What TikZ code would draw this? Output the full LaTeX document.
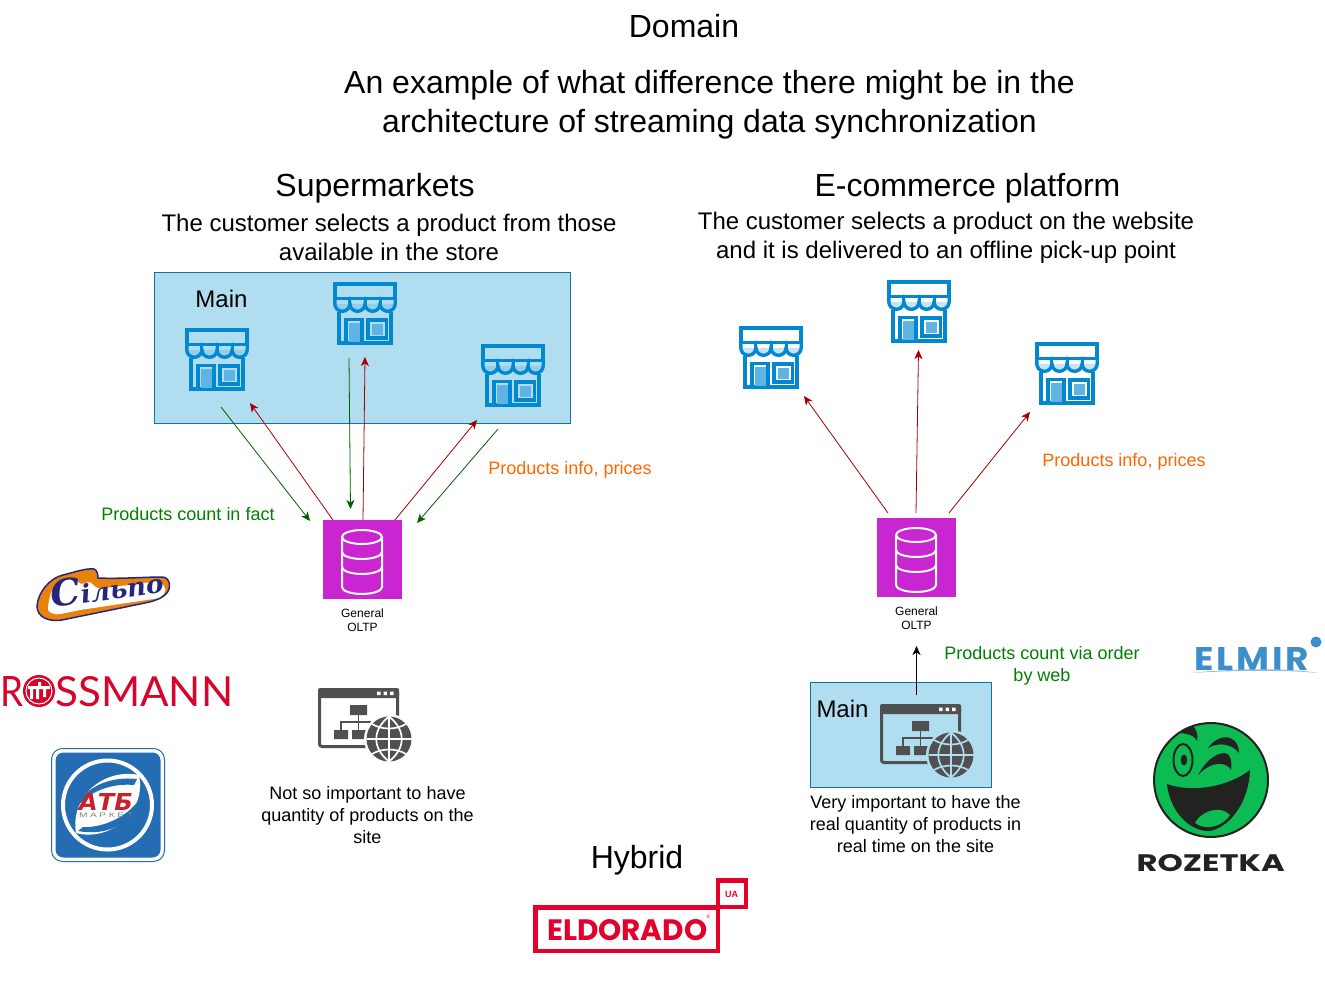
\documentclass[tikz,border=0pt]{standalone}
\usepackage{fontspec}
\setmainfont{Liberation Sans}
\newfontfamily\dvserif{DejaVu Serif}
\newfontfamily\lato{Lato}
\newfontfamily\pop{Poppins}
\newfontfamily\popsp[LetterSpace=8]{Poppins}
\newfontfamily\dejavu{DejaVu Sans}
\newfontfamily\widesans[LetterSpace=25]{Liberation Sans}
\usetikzlibrary{arrows.meta}
\definecolor{boxfill}{HTML}{B1DDF0}
\definecolor{boxline}{HTML}{10739E}
\definecolor{storeblue}{HTML}{0288D1}
\definecolor{storelight}{HTML}{5FB4E3}
\definecolor{dbpurple}{HTML}{C925D1}
\definecolor{webgrey}{HTML}{505050}
\definecolor{labgreen}{HTML}{008000}
\definecolor{laborange}{HTML}{FF6600}
\definecolor{arrred}{HTML}{A50000}
\definecolor{arrgreen}{HTML}{005F00}
\definecolor{silorange}{HTML}{E8820C}
\definecolor{silnavy}{HTML}{25277F}
\definecolor{rossred}{HTML}{D5052B}
\definecolor{atbblue}{HTML}{256DB2}
\definecolor{atbred}{HTML}{C9202C}
\definecolor{elmblue}{HTML}{3D8FCB}
\definecolor{rozgreen}{HTML}{0CBB52}
\definecolor{rozdark}{HTML}{222220}
\definecolor{eldred}{HTML}{E4002B}
\tikzset{
  x=1pt,y=-1pt,
  txt/.style={inner sep=0pt,align=center,text=black},
  t32/.style={txt,font=\fontsize{32}{39}\selectfont},
  t24/.style={txt,font=\fontsize{24}{29}\selectfont},
  t18/.style={txt,font=\fontsize{18}{22}\selectfont},
  t12/.style={txt,font=\fontsize{12}{14.5}\selectfont},
  areabox/.style={draw=boxline,fill=boxfill,line width=1pt},
  dbbox/.style={fill=dbpurple,draw=none,inner sep=0pt,minimum size=79pt},
  flow/.style={-{Stealth[length=9pt,width=8pt,inset=2.5pt]},line width=0.8pt},
  redflow/.style={flow,draw=arrred},
  greenflow/.style={flow,draw=arrgreen},
  blackflow/.style={flow,draw=black,line width=1pt},
  pics/storeicon/.style={code={
    \fill[storelight,opacity=.35] (1.8,21.8)
       arc[start angle=180,end angle=360,x radius=7.55,y radius=-7.5]
       arc[start angle=180,end angle=360,x radius=7.55,y radius=-7.5]
       arc[start angle=180,end angle=360,x radius=7.55,y radius=-7.5]
       arc[start angle=180,end angle=360,x radius=7.55,y radius=-7.5] -- cycle;
    \draw[storeblue,line width=3.6pt,line join=miter] (1.8,1.8) rectangle (62.2,16.4);
    \draw[storeblue,line width=3.4pt] (1.8,16) -- (1.8,21.8)
       arc[start angle=180,end angle=360,x radius=7.55,y radius=-7.5]
       arc[start angle=180,end angle=360,x radius=7.55,y radius=-7.5]
       arc[start angle=180,end angle=360,x radius=7.55,y radius=-7.5]
       arc[start angle=180,end angle=360,x radius=7.55,y radius=-7.5] -- (62.2,16);
    \draw[storeblue,line width=3pt] (16.9,16.4)--(16.9,21.8) (32,16.4)--(32,21.8) (47.1,16.4)--(47.1,21.8);
    \draw[storeblue,line width=3.6pt] (6,30) -- (6,61.2) -- (58,61.2) -- (58,30);
    \draw[storeblue,line width=3.2pt] (13,62) -- (13,37.5) -- (29,37.5) -- (29,62);
    \fill[storelight] (16,41) rectangle (26.5,59.5);
    \draw[storeblue,line width=3.4pt] (35,38) rectangle (53.5,56);
    \fill[storelight] (38.5,41.5) rectangle (50,52.5);
  }},
  pics/dbicon/.style={code={
    \draw[white,line width=2pt,fill=none] (-20,-25) -- (-20,25)
      arc[start angle=180,end angle=360,x radius=20,y radius=-7] -- (20,-25);
    \draw[white,line width=2pt] (0,-25) ellipse[x radius=20,y radius=7];
    \draw[white,line width=2pt] (-20,-10) arc[start angle=180,end angle=360,x radius=20,y radius=-7];
    \draw[white,line width=2pt] (-20,5) arc[start angle=180,end angle=360,x radius=20,y radius=-7];
  }},
  pics/webicon/.style={code={
    \draw[webgrey,line width=3pt,rounded corners=2.5pt] (1.5,1.5) rectangle (79.5,58.5);
    \fill[webgrey,rounded corners=2pt] (0,0) rectangle (81,10);
    \fill[white] (59,3.5) rectangle (62.5,7) (65.5,3.5) rectangle (69,7) (72,3.5) rectangle (75.5,7);
    \fill[webgrey] (32,17) rectangle (49,27) (16,42) rectangle (30,51) (34,42) rectangle (48,51);
    \draw[webgrey,line width=1.6pt] (40.5,27) -- (40.5,42) (23,42) -- (23,34) -- (56,34);
    \fill[#1] (71,51) circle[radius=25];
    \fill[webgrey] (71,51) circle[radius=22.5];
    \draw[#1,line width=1.7pt] (71,28.5) -- (71,73.5) (48.5,51) -- (93.5,51);
    \draw[#1,line width=1.7pt] (54,36) .. controls (64,42) and (78,42) .. (88,36);
    \draw[#1,line width=1.7pt] (54,66) .. controls (64,60) and (78,60) .. (88,66);
    \draw[#1,line width=1.7pt] (71,28.5) .. controls (54,42) and (54,60) .. (71,73.5);
    \draw[#1,line width=1.7pt] (71,28.5) .. controls (88,42) and (88,60) .. (71,73.5);
  }},
}
\begin{document}
\begin{tikzpicture}
\useasboundingbox (0,0) rectangle (1325,1007);
\fill[white] (0,0) rectangle (1325,1007);

% titles
\node[t32] (domain) at (684,26) {Domain};
\node[t32] (subtitle) at (709.5,104.5) {An example of what difference there might be in the\\architecture of streaming data synchronization};
\node[t32] (supers) at (375,188) {Supermarkets};
\node[t32] (ecom) at (967.5,188) {E-commerce platform};
\node[t24] (superdesc) at (389,237.5) {The customer selects a product from those\\available in the store};
\node[t24] (ecomdesc) at (946,237.5) {The customer selects a product on the website\\and it is delivered to an offline pick-up point};
\node[t32] (hybrid) at (637,860) {Hybrid};

% areas
\node[areabox,inner sep=0pt,anchor=north west,minimum width=416pt,minimum height=151pt] (mainleft) at (154,272) {};
\node[areabox,inner sep=0pt,anchor=north west,minimum width=181pt,minimum height=105pt] (mainright) at (810,682) {};
\node[t24] (mainlefttxt) at (221.5,299) {Main};
\node[t24] (mainrighttxt) at (842.5,709) {Main};

% stores
\pic at (185,328) {storeicon};
\pic at (333,282) {storeicon};
\pic at (481,344) {storeicon};
\pic at (739,326) {storeicon};
\pic at (887,280) {storeicon};
\pic at (1035,342) {storeicon};

% databases
\node[dbbox] (oltpl) at (362.5,559.5) {};
\node[dbbox] (oltpr) at (916.5,557.5) {};
\pic at (362,562) {dbicon};
\pic at (916,560) {dbicon};
\node[t12] (oltpltxt) at (362.5,620) {General\\OLTP};
\node[t12] (oltprtxt) at (916.5,618) {General\\OLTP};

% connector ends
\coordinate (la) at (221,407);  \coordinate (lb) at (310,521);
\coordinate (lc) at (333,520);  \coordinate (ld) at (250,403);
\coordinate (le) at (349,358);  \coordinate (lf) at (350.5,509);
\coordinate (lg) at (363,520);  \coordinate (lh) at (365,357);
\coordinate (li) at (395,520);  \coordinate (lj) at (477,420);
\coordinate (lk) at (498,429);  \coordinate (ll) at (417,523);
\coordinate (ra) at (888,513);  \coordinate (rb) at (804,396);
\coordinate (rc) at (916,513);  \coordinate (rd) at (918.5,350);
\coordinate (re) at (949,513);  \coordinate (rf) at (1030,412);
\coordinate (rg) at (916.5,695); \coordinate (rh) at (916.5,646);

\draw[greenflow] (la) -- (lb);
\draw[redflow] (lc) -- (ld);
\draw[greenflow] (le) -- (lf);
\draw[redflow] (lg) -- (lh);
\draw[redflow] (li) -- (lj);
\draw[greenflow] (lk) -- (ll);
\draw[redflow] (ra) -- (rb);
\draw[redflow] (rc) -- (rd);
\draw[redflow] (re) -- (rf);
\draw[blackflow] (rg) -- (rh);

% labels
\node[t18,text=laborange] (pil) at (570,470) {Products info, prices};
\node[t18,text=laborange] (pir) at (1124,462) {Products info, prices};
\node[t18,text=labgreen] (pcf) at (188,514) {Products count in fact};
\node[t18,text=labgreen] (pcw) at (1042,666) {Products count via order\\by web};
\node[t18] (notimp) at (367.5,815) {Not so important to have\\quantity of products on the\\site};
\node[t18] (veryimp) at (915.5,824) {Very important to have the\\real quantity of products in\\real time on the site};

% web icons
\pic at (318,688) {webicon=white};
\pic at (880,704) {webicon=boxfill};

% Silpo logo
\fill[silorange,draw=silnavy,line width=1.5pt]
  (37,606) .. controls (38,592) and (50,578) .. (63,575) .. controls (75,572) and (86,568) .. (94,569)
  .. controls (97,570) and (98,574) .. (98,578) .. controls (120,579) and (145,577) .. (162,577)
  .. controls (170,577) and (172,588) .. (166,594) .. controls (160,600) and (150,602) .. (140,604)
  -- (62,620) .. controls (50,622) and (37,618) .. (37,606) -- cycle;
\fill[white,rounded corners=4pt] (47,611) -- (51,591) -- (61,581) -- (75,578) -- (80,585) -- (90,581) -- (97,589) -- (160,581) -- (167,590) -- (160,598) -- (80,610) -- (56,615) -- cycle;
\node[inner sep=0pt,rotate=8,text=silnavy] (silpo) at (107,587) {\resizebox{113pt}{27pt}{\dvserif\bfseries\itshape{\fontsize{20}{20}\selectfont С}{\fontsize{14}{14}\selectfont ільпо}}};

% Rossmann logo
\node[inner sep=0pt,anchor=north west,text=rossred] (rossr) at (0,676) {\resizebox{23pt}{30pt}{\lato R}};
\fill[rossred] (39,691) circle[radius=16];
\draw[white,line width=1pt] (39,691) circle[radius=13];
\fill[white] (28,686) rectangle (50,689) (30,689) rectangle (33,699) (36,689) rectangle (39,699) (43,689) rectangle (46,697) (38,682) rectangle (41,686);
\node[inner sep=0pt,anchor=north west,text=rossred] (rosss) at (55,676) {\resizebox{178pt}{30pt}{\lato SSMANN}};

% ATB logo
\draw[atbblue,line width=1pt,fill=white,rounded corners=11pt] (51.5,748.5) rectangle (164.5,861.5);
\fill[atbblue,rounded corners=8pt] (55.5,752.5) rectangle (160.5,857.5);
\draw[white,line width=4pt] (107.5,805) circle[radius=44.5];
\fill[white] (139,775) .. controls (105,768) and (70,795) .. (76,833) .. controls (110,842) and (147,812) .. (139,775) -- cycle;
\fill[atbblue] (137,779) .. controls (112,776) and (85,786) .. (78,806) .. controls (90,791) and (112,783) .. (134,785) -- cycle;
\fill[atbblue] (78,831) .. controls (105,836) and (132,826) .. (141,797) .. controls (130,815) and (105,828) .. (83,827) -- cycle;
\node[inner sep=0pt,text=atbred] (atb) at (106,802) {\resizebox{54pt}{17pt}{\dejavu\bfseries\itshape АТБ}};
\node[inner sep=0pt,text=gray] (atbm) at (106,815.5) {\resizebox{54pt}{4.5pt}{\widesans МАРКЕТ}};

% Elmir logo
\node[inner sep=0pt,anchor=north west,text=elmblue] (elmir) at (1194,647) {\resizebox{115pt}{23pt}{\popsp\bfseries ELMIR}};
\fill[elmblue] (1316,642) circle[radius=5.5];
\fill[elmblue!60] (1190,673) .. controls (1240,668) and (1290,668) .. (1318,673) .. controls (1290,670) and (1240,670) .. (1190,673) -- cycle;

% Rozetka logo
\draw[rozdark,line width=2pt,fill=rozgreen] (1211,780) circle[radius=57];
\fill[rozdark] (1180,733) .. controls (1184,729) and (1188,727) .. (1193,726) .. controls (1197,730) and (1198,735) .. (1197,741) .. controls (1195,737) and (1192,734) .. (1180,733) -- cycle;
\draw[rozdark,line width=2pt] (1183,760) ellipse[x radius=9.5,y radius=16];
\fill[rozdark] (1184,760) ellipse[x radius=3.2,y radius=5.5];
\fill[rozdark] (1198,775) .. controls (1205,762) and (1215,753) .. (1225,753) .. controls (1231,754) and (1232,762) .. (1231,770) .. controls (1227,762) and (1212,760) .. (1198,775) -- cycle;
\fill[rozdark] (1208,748) .. controls (1215,738) and (1224,736) .. (1230,738) .. controls (1236,740) and (1239,746) .. (1239,753) .. controls (1233,745) and (1220,741) .. (1208,748) -- cycle;
\fill[rozdark] (1167,784) .. controls (1192,793) and (1228,787) .. (1250,770)
  .. controls (1249,800) and (1232,826) .. (1210,831)
  .. controls (1190,832) and (1170,812) .. (1167,784) -- cycle;
\fill[rozgreen] (1195,823) .. controls (1200,812) and (1220,804) .. (1230,815)
  .. controls (1224,825) and (1207,832) .. (1195,823) -- cycle;
\node[inner sep=0pt,anchor=north west,text=rozdark] (rozetka) at (1136.5,854) {\resizebox{148pt}{17pt}{\pop\bfseries ROZETKA}};

% Eldorado logo
\draw[eldred,line width=4.5pt] (535.5,907.5) rectangle (718,951);
\draw[eldred,line width=4.5pt] (718,907) -- (718,880.5) -- (746,880.5) -- (746,907) -- (718,907);
\node[inner sep=0pt,text=eldred] (ua) at (731.5,894) {\fontsize{9}{9}\selectfont\bfseries UA};
\node[inner sep=0pt,anchor=north west,text=eldred] (eldorado) at (547,919) {\resizebox{160pt}{21pt}{\pop\bfseries ELDORADO}};
\node[inner sep=0pt,text=eldred] (regm) at (708.5,917) {\fontsize{5}{5}\selectfont ®};
\end{tikzpicture}
\end{document}
